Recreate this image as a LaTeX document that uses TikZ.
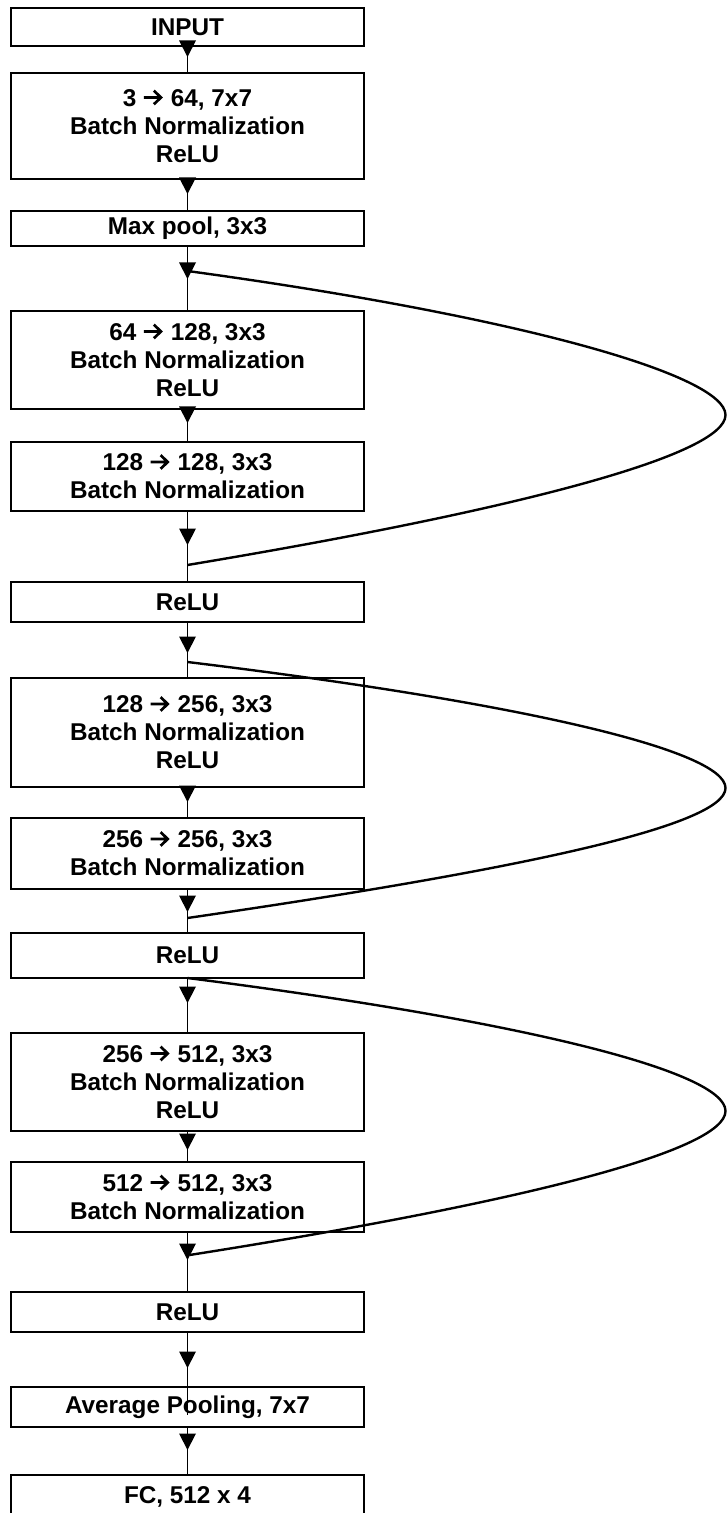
\documentclass[tikz,border=0pt]{standalone}
\usepackage{fontspec}
\setmainfont{Liberation Sans}
\newcommand\ar{\raisebox{0.4pt}{\tikz[x=1pt,y=1pt]{\path[use as bounding box] (-0.3,-4.1) rectangle (10.2,4.1); \draw[black,line width=1.35pt,line join=miter,line cap=butt] (0,0) -- (8.6,0) (5.0,3.4) -- (8.6,0) -- (5.0,-3.4);}}}
\newcommand\mytri[1]{\fill[black] (187.5,#1) -- ++(-8.5,-16.5) -- ++(17,0) -- cycle;}
\begin{document}
\begin{tikzpicture}[x=0.5pt,y=-0.5pt,
 box/.style={draw, line width=0.55pt, minimum width=176.5pt, inner sep=0pt, align=center,
   font=\fontsize{12.15}{14}\selectfont\bfseries},
 conn/.style={line width=0.55pt},
 skipline/.style={line width=1.2pt}]
\useasboundingbox (0,0) rectangle (727,1513);
\clip (0,0) rectangle (727,1513);
% boxes
\node[box, minimum height=19pt]   (n1)  at (187.5,27)    {INPUT};
\node[box, minimum height=53pt]   (n2)  at (187.5,126)   {3 \ar{} 64, 7x7\\Batch Normalization\\ReLU};
\node[box, minimum height=17.5pt] (n3)  at (187.5,228.5) {Max pool, 3x3};
\node[box, minimum height=49pt]   (n4)  at (187.5,360)   {64 \ar{} 128, 3x3\\Batch Normalization\\ReLU};
\node[box, minimum height=34.5pt] (n5)  at (187.5,476.5) {128 \ar{} 128, 3x3\\Batch Normalization};
\node[box, minimum height=20pt]   (n6)  at (187.5,602)   {ReLU};
\node[box, minimum height=54.5pt] (n7)  at (187.5,732.5) {128 \ar{} 256, 3x3\\Batch Normalization\\ReLU};
\node[box, minimum height=35.5pt] (n8)  at (187.5,853.5) {256 \ar{} 256, 3x3\\Batch Normalization};
\node[box, minimum height=22.5pt] (n9)  at (187.5,955.5) {ReLU};
\node[box, minimum height=49pt]   (n10) at (187.5,1082)  {256 \ar{} 512, 3x3\\Batch Normalization\\ReLU};
\node[box, minimum height=35pt]   (n11) at (187.5,1197)  {512 \ar{} 512, 3x3\\Batch Normalization};
\node[box, minimum height=20pt]   (n12) at (187.5,1312)  {ReLU};
\node[box, minimum height=20pt]   (n13) at (187.5,1407)  {Average Pooling, 7x7};
\node[box, minimum height=22pt]   (n14) at (187.5,1497)  {FC, 512 x 4};
% connectors
\draw[conn] (n1.south) -- (n2.north);
\draw[conn] (n2.south) -- (n3.north);
\draw[conn] (n3.south) -- (n4.north);
\draw[conn] (n4.south) -- (n5.north);
\draw[conn] (n5.south) -- (n6.north);
\draw[conn] (n6.south) -- (n7.north);
\draw[conn] (n7.south) -- (n8.north);
\draw[conn] (n8.south) -- (n9.north);
\draw[conn] (n9.south) -- (n10.north);
\draw[conn] (n10.south) -- (n11.north);
\draw[conn] (n11.south) -- (n12.north);
\coordinate (p13) at (187.5,1415);
\draw[conn] (n12.south) -- (p13);
\draw[conn] (n13.south) -- (n14.north);
% skip connections
\coordinate (s1) at (187.5,271);  \coordinate (m1) at (725.5,415);  \coordinate (e1) at (187.5,565);
\coordinate (s2) at (187.5,662);  \coordinate (m2) at (725.5,788);  \coordinate (e2) at (187.5,918);
\coordinate (s3) at (187.5,978);  \coordinate (m3) at (725.5,1111); \coordinate (e3) at (189.5,1255);
\draw[skipline] (s1) .. controls +(330,45) and +(0,-40) .. (m1) .. controls +(0,40) and +(330,-55) .. (e1);
\draw[skipline] (s2) .. controls +(330,40) and +(0,-38) .. (m2) .. controls +(0,38) and +(330,-48) .. (e2);
\draw[skipline] (s3) .. controls +(330,42) and +(0,-40) .. (m3) .. controls +(0,40) and +(330,-52) .. (e3);
% arrow heads
\mytri{57}
\mytri{194}
\mytri{279}
\mytri{423}
\mytri{545}
\mytri{653}
\mytri{802}
\mytri{912}
\mytri{1003}
\mytri{1150}
\mytri{1260}
\mytri{1368}
\mytri{1450}
\end{tikzpicture}
\end{document}
